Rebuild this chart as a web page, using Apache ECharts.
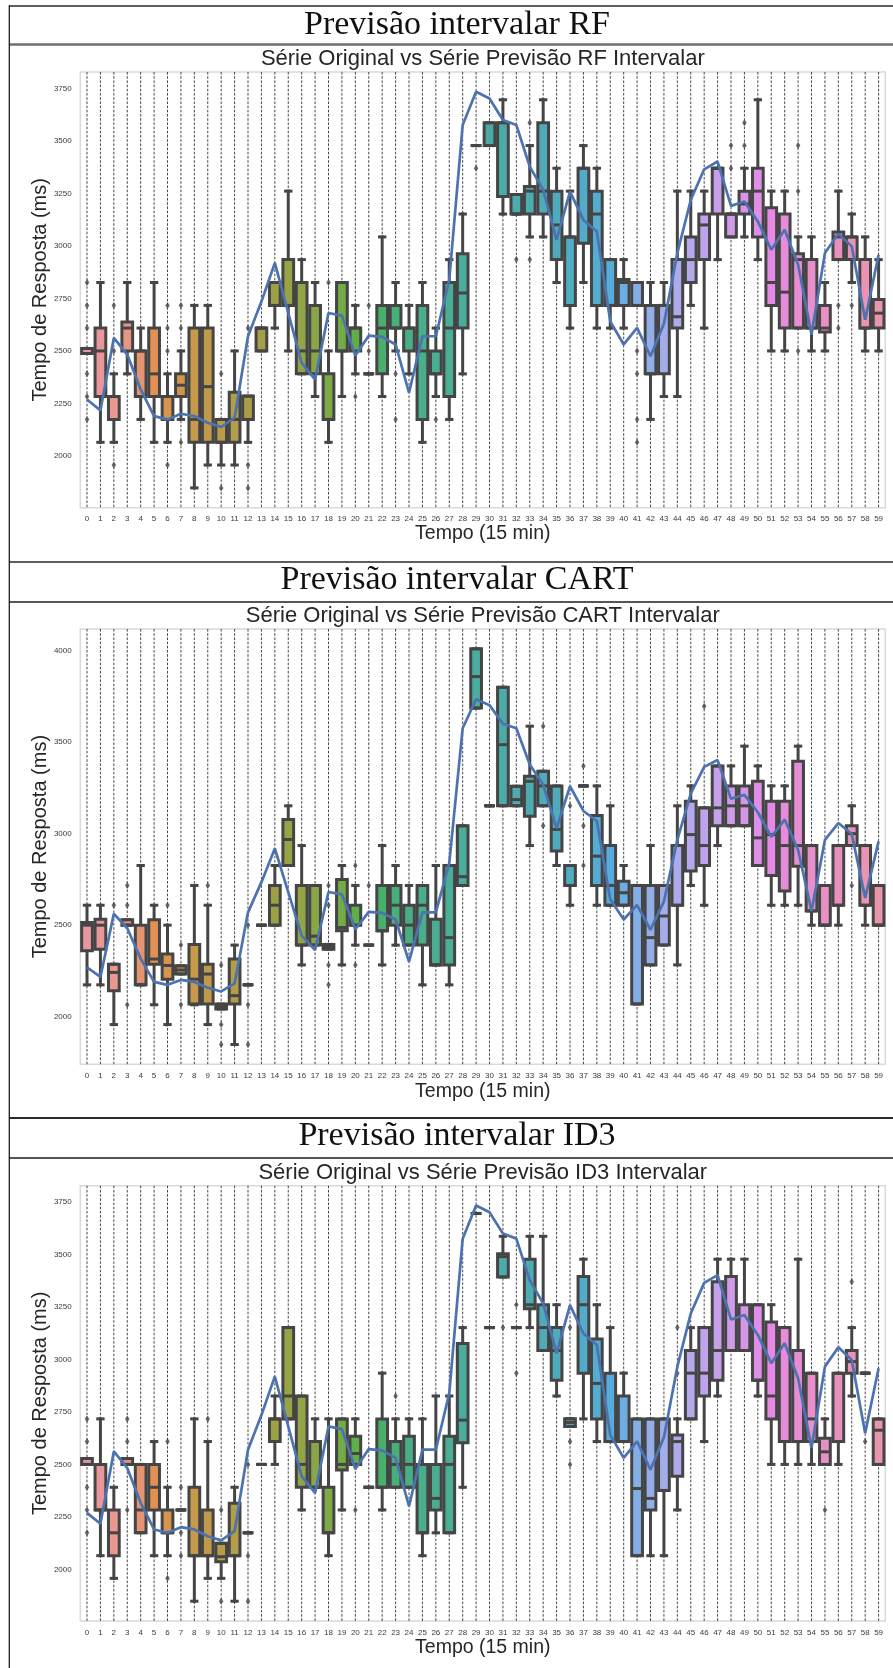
<!DOCTYPE html>
<html>
<head>
<meta charset="utf-8">
<script src="https://cdn.jsdelivr.net/npm/echarts@6/dist/echarts.min.js"></script>
<style>
  html, body { margin: 0; padding: 0; background: #ffffff; }
  #chart { width: 893px; height: 1668px; }
</style>
</head>
<body>
<div id="chart"></div>
<script>
// ---- data -----------------------------------------------------------------
const timeSlots = ['0','1','2','3','4','5','6','7','8','9','10','11','12','13','14','15','16','17','18','19',
  '20','21','22','23','24','25','26','27','28','29','30','31','32','33','34','35','36','37','38','39',
  '40','41','42','43','44','45','46','47','48','49','50','51','52','53','54','55','56','57','58','59'];

// observed response time (ms) for each 15 min slot
const originalSeries = [2269, 2217, 2562, 2483, 2317, 2190, 2174, 2201, 2190, 2158,
  2138, 2182, 2570, 2735, 2919, 2681, 2443, 2364, 2681, 2668,
  2478, 2573, 2567, 2531, 2301, 2570, 2570, 2839, 3576, 3734,
  3702, 3600, 3576, 3378, 3267, 3029, 3259, 3124, 3069, 2641,
  2531, 2610, 2475, 2630, 2966, 3219, 3365, 3402, 3191, 3212,
  3117, 2982, 3077, 2911, 2578, 2966, 3058, 2998, 2649, 2958];

// interval forecasts: [lower whisker, Q1, median, Q3, upper whisker]
const rfBoxes = [
  [2488,2488,2512,2512,2512],[2065,2283,2500,2609,2826],[2065,2174,2283,2283,2391],[2391,2500,2609,2638,2826],
  [2174,2283,2500,2500,2609],[2065,2283,2391,2609,2826],[2065,2174,2283,2283,2391],[2174,2283,2337,2391,2500],
  [1848,2065,2174,2609,2717],[1957,2065,2330,2609,2717],[1957,2065,2065,2174,2174],[1957,2065,2174,2304,2500],
  [2065,2174,2174,2285,2285],[2500,2500,2609,2609,2609],[2609,2717,2717,2826,2826],[2500,2717,2717,2935,3261],
  [2391,2391,2500,2826,2935],[2283,2391,2500,2717,2826],[2065,2174,2174,2391,2500],[2283,2500,2500,2826,2826],
  [2391,2500,2609,2609,2717],[2391,2391,2391,2391,2391],[2283,2391,2609,2717,3043],[2500,2609,2609,2717,2826],
  [2391,2500,2609,2609,2717],[2065,2174,2500,2717,2826],[2283,2391,2391,2500,2609],[2174,2283,2609,2826,2935],
  [2391,2609,2776,2963,3152],[3478,3478,3478,3478,3478],[3478,3478,3478,3587,3587],[3152,3235,3587,3587,3696],
  [3152,3152,3152,3245,3245],[3043,3152,3261,3283,3478],[3043,3152,3261,3587,3696],[2826,2935,3100,3261,3370],
  [2609,2717,3043,3043,3261],[2826,3013,3370,3370,3478],[2609,2717,3152,3261,3370],[2609,2717,2717,2935,2935],
  [2609,2717,2826,2840,2935],[2717,2717,2826,2826,2826],[2174,2391,2391,2717,2826],[2283,2391,2717,2717,2826],
  [2283,2609,2663,2935,3261],[2717,2826,2935,3043,3261],[2609,2935,3100,3152,3261],[2935,3152,3370,3370,3370],
  [3043,3043,3152,3152,3152],[3043,3152,3200,3261,3370],[2935,3043,3261,3370,3696],[2500,2717,2826,3182,3261],
  [2500,2609,2780,3152,3261],[2609,2609,2935,2963,3043],[2500,2609,2609,2935,3043],[2500,2590,2609,2717,2826],
  [2935,2935,3043,3067,3261],[2826,2935,3043,3043,3152],[2500,2609,2609,2935,3043],[2500,2609,2680,2745,2935]
];
// outliers: [slot, value]
const rfOutliers = [
  [0,2826],[0,2717],[0,2609],[0,2391],[0,2283],[0,2174],
  [2,2717],[2,2500],[2,1957],
  [6,2717],[6,2609],[6,2500],[6,1957],
  [7,2717],[7,2609],[7,2065],
  [10,2391],[10,1848],
  [12,2609],[12,1957],[12,1848],
  [18,2826],[20,2283],[21,2717],[21,2500],[23,2391],[23,2174],[26,2174],
  [29,3370],[32,2935],[33,3587],[33,2935],
  [41,2500],[41,2391],[41,2174],[41,2065],
  [48,3478],[48,3370],[49,3587],[49,3478],
  [53,3478],[53,3261],[53,2500],[56,2717],[56,2609],[57,2717]
];

const cartBoxes = [
  [2174,2360,2500,2514,2609],[2174,2369,2500,2532,2609],[1957,2142,2242,2287,2287],[2500,2500,2500,2530,2530],
  [2174,2174,2174,2500,2826],[2065,2287,2315,2530,2609],[1957,2205,2280,2342,2500],[2233,2233,2255,2278,2278],
  [2065,2069,2205,2395,2717],[1957,2069,2233,2287,2609],[2042,2042,2055,2069,2069],[1848,2069,2115,2315,2391],
  [2174,2174,2174,2174,2174],[2500,2500,2500,2500,2500],[2500,2500,2609,2717,2826],[2826,2826,2968,3077,3152],
  [2283,2391,2391,2717,2935],[2391,2391,2440,2717,2717],[2369,2369,2380,2395,2395],[2283,2469,2487,2750,2826],
  [2391,2500,2500,2609,2717],[2391,2391,2391,2391,2391],[2283,2469,2469,2717,2935],[2391,2500,2609,2717,2826],
  [2391,2391,2500,2609,2717],[2174,2391,2609,2717,2717],[2283,2283,2283,2532,2826],[2174,2283,2432,2826,2826],
  [2717,2717,2765,3043,3043],[3686,3686,3858,4010,4010],[3152,3152,3152,3152,3152],[3152,3152,3486,3800,3800],
  [3152,3152,3186,3259,3259],[2935,3095,3286,3313,3587],[3152,3152,3261,3341,3341],[2826,2905,3023,3261,3261],
  [2609,2717,2717,2826,2826],[3261,3261,3261,3261,3261],[2609,2717,2877,3099,3261],[2609,2609,2717,2935,3152],
  [2609,2609,2677,2740,2826],[2069,2069,2717,2717,2717],[2283,2283,2432,2717,2935],[2391,2391,2550,2717,2717],
  [2283,2609,2609,2935,3152],[2717,2796,2995,3177,3261],[2609,2826,2935,3141,3141],[2935,3043,3141,3370,3370],
  [3043,3043,3152,3261,3370],[3043,3043,3152,3261,3478],[2826,2826,2977,3286,3370],[2609,2772,2995,3177,3261],
  [2609,2687,2935,3177,3261],[2609,2822,2935,3395,3478],[2500,2578,2578,2935,2935],[2500,2500,2500,2717,2717],
  [2500,2609,2609,2935,2935],[2935,2935,3000,3043,3152],[2500,2609,2609,2935,2935],[2500,2500,2500,2717,2717]
];
const cartOutliers = [
  [2,2609],[3,2717],[3,2609],[3,2065],[6,2609],[7,2391],[7,2065],[9,2717],
  [10,2283],[10,1957],[10,1848],[12,2500],[12,2065],[12,1848],
  [18,2717],[18,2609],[18,2283],[18,2174],[20,2826],[20,2283],[21,2717],
  [34,3587],[34,3043],[36,3152],[37,3370],[37,3043],[37,2826],[46,3696],[57,2717]
];

const id3Boxes = [
  [2500,2500,2500,2528,2528],[2065,2283,2283,2500,2717],[1957,2065,2174,2283,2391],[2500,2500,2500,2528,2528],
  [2174,2174,2283,2500,2500],[2065,2283,2391,2500,2609],[2065,2174,2174,2283,2391],[2283,2283,2283,2283,2283],
  [1848,2065,2065,2391,2717],[1957,2065,2065,2283,2609],[1957,2036,2060,2124,2124],[1848,2065,2065,2315,2391],
  [2174,2174,2174,2174,2174],[2500,2500,2500,2500,2500],[2500,2609,2717,2717,2826],[2717,2717,2826,3152,3152],
  [2283,2391,2500,2826,2826],[2391,2391,2391,2609,2717],[2065,2174,2174,2391,2717],[2283,2473,2500,2717,2717],
  [2500,2500,2552,2634,2717],[2391,2391,2391,2391,2391],[2283,2391,2391,2717,2935],[2391,2391,2500,2609,2717],
  [2391,2391,2500,2634,2717],[2065,2174,2174,2500,2717],[2174,2283,2338,2500,2826],[2174,2174,2500,2634,2826],
  [2391,2603,2711,3076,3152],[3696,3696,3696,3696,3696],[3152,3152,3152,3152,3152],[3393,3393,3490,3504,3587],
  [3152,3152,3152,3152,3152],[3152,3242,3261,3478,3587],[3043,3043,3152,3261,3587],[2826,2901,3043,3152,3261],
  [2681,2681,2700,2718,2718],[2717,2935,3261,3396,3478],[2609,2717,2886,3098,3261],[2609,2609,2609,2935,3152],
  [2609,2609,2609,2826,2935],[2065,2065,2385,2717,2717],[2065,2283,2338,2717,2717],[2065,2376,2376,2717,2717],
  [2283,2444,2609,2640,2717],[2717,2717,2935,3043,3152],[2609,2826,2935,3152,3152],[2826,2901,3043,3370,3478],
  [3043,3043,3043,3396,3478],[3043,3043,3043,3261,3478],[2826,2901,2901,3261,3261],[2500,2717,2826,3179,3261],
  [2500,2609,2609,3152,3152],[2500,2609,2609,3043,3478],[2500,2609,2717,2935,2935],[2500,2500,2560,2625,2717],
  [2500,2609,2609,2935,2935],[2826,2935,2990,3043,3152],[2935,2935,2935,2935,2935],[2500,2500,2663,2717,2717]
];
const id3Outliers = [
  [0,2717],[0,2609],[0,2391],[0,2283],[0,2174],[3,2717],[3,2609],[3,2283],
  [6,2609],[6,1957],[7,2391],[7,2174],[7,2065],[9,2717],[10,2283],[10,1848],
  [12,2500],[12,2065],[12,1848],[20,2283],[23,2826],
  [31,3152],[32,3261],[32,2935],[36,3152],[36,2609],[36,2500],
  [44,3152],[44,2935],[55,2283],[57,3370],[58,2609]
];

const ticksFine = [2000, 2250, 2500, 2750, 3000, 3250, 3500, 3750];
const ticksCoarse = [2000, 2500, 3000, 3500, 4000];

// ---- colours: seaborn-style husl palette, desaturated -----------------------
const M = [[3.2406, -1.5372, -0.4986], [-0.9689, 1.8758, 0.0415], [0.0557, -0.2040, 1.0570]];
function maxChroma(L, H) {
  const hr = H * Math.PI / 180, sinH = Math.sin(hr), cosH = Math.cos(hr);
  const sub1 = Math.pow(L + 16, 3) / 1560896;
  const sub2 = sub1 > 0.008856 ? sub1 : L / 903.3;
  let res = Infinity;
  for (const [m1, m2, m3] of M) {
    const top = (0.99915 * m1 + 1.05122 * m2 + 1.14460 * m3) * sub2;
    const rb = 0.86330 * m3 - 0.17266 * m2;
    const lb = 0.12949 * m3 - 0.38848 * m1;
    const bottom = (rb * sinH + lb * cosH) * sub2;
    for (const t of [0, 1]) {
      const C = L * (top - 1.05122 * t) / (bottom + 0.17266 * sinH * t);
      if (C > 0 && C < res) res = C;
    }
  }
  return res;
}
function huslToRgb(H, S, L) {
  const C = maxChroma(L, H) / 100 * S;
  const hr = H * Math.PI / 180;
  const U = Math.cos(hr) * C, V = Math.sin(hr) * C;
  const fInv = t => (t * t * t > 0.008856 ? t * t * t : (116 * t - 16) / 903.3);
  const Y = fInv((L + 16) / 116);
  const vu = U / (13 * L) + 0.19784;
  const vv = V / (13 * L) + 0.46834;
  const X = 0 - (9 * Y * vu) / ((vu - 4) * vv - vu * vv);
  const Z = (9 * Y - 15 * vv * Y - vv * X) / (3 * vv);
  return M.map(r => {
    const c = r[0] * X + r[1] * Y + r[2] * Z;
    const v = c <= 0.0031308 ? 12.92 * c : 1.055 * Math.pow(c, 1 / 2.4) - 0.055;
    return Math.min(1, Math.max(0, v));
  });
}
function rgbToHls(r, g, b) {
  const mx = Math.max(r, g, b), mn = Math.min(r, g, b);
  const l = (mx + mn) / 2;
  if (mx === mn) return [0, l, 0];
  const s = l <= 0.5 ? (mx - mn) / (mx + mn) : (mx - mn) / (2 - mx - mn);
  const rc = (mx - r) / (mx - mn), gc = (mx - g) / (mx - mn), bc = (mx - b) / (mx - mn);
  let h = r === mx ? bc - gc : (g === mx ? 2 + rc - bc : 4 + gc - rc);
  h = ((h / 6) % 1 + 1) % 1;
  return [h, l, s];
}
function hlsToRgb(h, l, s) {
  if (s === 0) return [l, l, l];
  const m2 = l <= 0.5 ? l * (1 + s) : l + s - l * s;
  const m1 = 2 * l - m2;
  const v = hue => {
    hue = ((hue % 1) + 1) % 1;
    if (hue < 1 / 6) return m1 + (m2 - m1) * hue * 6;
    if (hue < 0.5) return m2;
    if (hue < 2 / 3) return m1 + (m2 - m1) * (2 / 3 - hue) * 6;
    return m1;
  };
  return [v(h + 1 / 3), v(h), v(h - 1 / 3)];
}
const toHex = c => '#' + c.map(x => Math.round(x * 255).toString(16).padStart(2, '0')).join('');
const boxColors = [];
let minLight = 1;
for (let i = 0; i < timeSlots.length; i++) {
  const hue = ((i / timeSlots.length + 0.01) % 1) * 359;
  const [r, g, b] = huslToRgb(hue, 0.9 * 99, 0.7 * 99);
  const [h, l, s] = rgbToHls(r, g, b);
  const rgb = hlsToRgb(h, l, s * 0.75);
  minLight = Math.min(minLight, rgbToHls(...rgb)[1]);
  boxColors.push(toHex(rgb));
}
const edgeGray = toHex([minLight * 0.6, minLight * 0.6, minLight * 0.6]);
const lineBlue = '#4c72b0';
const LW = 3;

// ---- layout ---------------------------------------------------------------
const SANS = '"Liberation Sans", Arial, sans-serif';
const SERIF = '"Liberation Serif", "Times New Roman", serif';
const plotLeft = 80.3, plotWidth = 805;
const panels = [
  { header: 'Previsão intervalar RF', title: 'Série Original vs Série Previsão RF Intervalar',
    boxes: rfBoxes, outliers: rfOutliers, ticks: ticksFine,
    top: 72, height: 435.7, headerY: 25, titleY: 59, xTitleY: 534, labelMargin: 7 },
  { header: 'Previsão intervalar CART', title: 'Série Original vs Série Previsão CART Intervalar',
    boxes: cartBoxes, outliers: cartOutliers, ticks: ticksCoarse,
    top: 629, height: 435.3, headerY: 580, titleY: 616, xTitleY: 1091.7, labelMargin: 7.5 },
  { header: 'Previsão intervalar ID3', title: 'Série Original vs Série Previsão ID3 Intervalar',
    boxes: id3Boxes, outliers: id3Outliers, ticks: ticksFine,
    top: 1185.7, height: 435.3, headerY: 1136, titleY: 1173, xTitleY: 1647.7, labelMargin: 7.5 }
];

// value extent with a 5% margin on each side
function paddedExtent(boxes, outliers) {
  let lo = Infinity, hi = -Infinity;
  boxes.forEach(b => { lo = Math.min(lo, b[0]); hi = Math.max(hi, b[4]); });
  outliers.forEach(o => { lo = Math.min(lo, o[1]); hi = Math.max(hi, o[1]); });
  originalSeries.forEach(v => { lo = Math.min(lo, v); hi = Math.max(hi, v); });
  const pad = (hi - lo) * 0.05;
  return [lo - pad, hi + pad];
}

function renderGuide(params, api) {
  const cs = params.coordSys;
  const x = api.coord([api.value(0), 0])[0];
  return {
    type: 'line',
    shape: { x1: x, y1: cs.y, x2: x, y2: cs.y + cs.height },
    style: { stroke: '#1a1a1a', lineWidth: 0.8, lineDash: [2.6, 1.6] },
    silent: true
  };
}

function renderBox(params, api) {
  const i = api.value(0);
  const yLo = api.coord([i, api.value(1)])[1];
  const yQ1 = api.coord([i, api.value(2)])[1];
  const yMed = api.coord([i, api.value(3)])[1];
  const yQ3 = api.coord([i, api.value(4)])[1];
  const yHi = api.coord([i, api.value(5)])[1];
  const cx = api.coord([i, api.value(3)])[0];
  const band = api.size([1, 0])[0];
  const bw = band * 0.8, cw = band * 0.4;
  const stroke = { stroke: edgeGray, lineWidth: LW, lineCap: 'square' };
  const children = [];
  if (Math.abs(yLo - yQ1) > 0.5) children.push({ type: 'line', shape: { x1: cx, y1: yQ1, x2: cx, y2: yLo }, style: stroke });
  if (Math.abs(yHi - yQ3) > 0.5) children.push({ type: 'line', shape: { x1: cx, y1: yQ3, x2: cx, y2: yHi }, style: stroke });
  children.push({ type: 'rect', shape: { x: cx - bw / 2, y: yQ3, width: bw, height: yQ1 - yQ3 },
    style: { fill: boxColors[i], stroke: edgeGray, lineWidth: LW, lineJoin: 'miter' } });
  children.push({ type: 'line', shape: { x1: cx - bw / 2, y1: yMed, x2: cx + bw / 2, y2: yMed },
    style: { stroke: edgeGray, lineWidth: LW, lineCap: 'butt' } });
  children.push({ type: 'line', shape: { x1: cx - cw / 2, y1: yLo, x2: cx + cw / 2, y2: yLo }, style: stroke });
  children.push({ type: 'line', shape: { x1: cx - cw / 2, y1: yHi, x2: cx + cw / 2, y2: yHi }, style: stroke });
  return { type: 'group', children };
}

const grid = [], xAxis = [], yAxis = [], series = [], graphic = [];

panels.forEach((p, k) => {
  const [yMin, yMax] = paddedExtent(p.boxes, p.outliers);
  grid.push({ left: plotLeft, top: p.top, width: plotWidth, height: p.height, show: true,
    borderColor: '#d9d9d9', borderWidth: 1.5, backgroundColor: 'transparent' });
  xAxis.push({ type: 'category', gridIndex: k, data: timeSlots, boundaryGap: true,
    axisLine: { show: false }, axisTick: { show: false }, splitLine: { show: false },
    axisLabel: { interval: 0, fontSize: 8, color: '#3a3a3a', fontFamily: SANS, margin: p.labelMargin } });
  yAxis.push({ type: 'value', gridIndex: k, min: yMin, max: yMax,
    axisLine: { show: false }, axisTick: { show: false }, splitLine: { show: false },
    axisLabel: { customValues: p.ticks, formatter: v => String(v), fontSize: 8, color: '#3a3a3a',
      fontFamily: SANS, margin: 8.6 } });

  series.push({ type: 'custom', xAxisIndex: k, yAxisIndex: k, z: 1, silent: true,
    data: timeSlots.map((t, i) => [i]), renderItem: renderGuide, encode: { x: 0 } });
  series.push({ type: 'custom', xAxisIndex: k, yAxisIndex: k, z: 2,
    data: p.boxes.map((b, i) => [i, ...b]), renderItem: renderBox,
    encode: { x: 0, y: [1, 2, 3, 4, 5] } });
  series.push({ type: 'scatter', xAxisIndex: k, yAxisIndex: k, z: 3,
    symbol: 'diamond', symbolSize: [4.5, 7], itemStyle: { color: edgeGray },
    data: p.outliers });
  series.push({ type: 'line', xAxisIndex: k, yAxisIndex: k, z: 4,
    data: originalSeries, symbol: 'none', lineStyle: { color: lineBlue, width: 2.7 } });

  graphic.push({ type: 'text', x: 457, y: p.headerY, silent: true,
    style: { text: p.header, font: '34px ' + SERIF, fill: '#111', align: 'center', verticalAlign: 'middle' } });
  graphic.push({ type: 'text', x: plotLeft + plotWidth / 2, y: p.titleY, silent: true,
    style: { text: p.title, font: '22px ' + SANS, fill: '#262626', align: 'center', verticalAlign: 'middle' } });
  graphic.push({ type: 'text', x: plotLeft + plotWidth / 2, y: p.xTitleY, silent: true,
    style: { text: 'Tempo (15 min)', font: '19.5px ' + SANS, fill: '#262626', align: 'center', verticalAlign: 'middle' } });
  graphic.push({ type: 'text', x: 40, y: p.top + p.height / 2, rotation: Math.PI / 2, silent: true,
    style: { text: 'Tempo de Resposta (ms)', font: '20px ' + SANS, fill: '#262626', align: 'center', verticalAlign: 'middle' } });
});

// table rules framing the three panels
const rules = [
  { y: 6, color: '#2a2a2a', w: 1.6 }, { y: 44.5, color: '#6e6e6e', w: 2.4 },
  { y: 562, color: '#5e5e5e', w: 2 }, { y: 602, color: '#1e1e1e', w: 1.3 },
  { y: 1118, color: '#2a2a2a', w: 1.8 }, { y: 1158, color: '#555555', w: 2 }
];
rules.forEach(r => graphic.push({ type: 'line', silent: true,
  shape: { x1: 9, y1: r.y, x2: 893, y2: r.y }, style: { stroke: r.color, lineWidth: r.w } }));
graphic.push({ type: 'line', silent: true, shape: { x1: 9.3, y1: 5.2, x2: 9.3, y2: 1668 },
  style: { stroke: '#1e1e1e', lineWidth: 1.3 } });

const chart = echarts.init(document.getElementById('chart'), null, { renderer: 'canvas' });
chart.setOption({ animation: false, backgroundColor: '#ffffff', grid, xAxis, yAxis, series, graphic });
</script>
</body>
</html>
